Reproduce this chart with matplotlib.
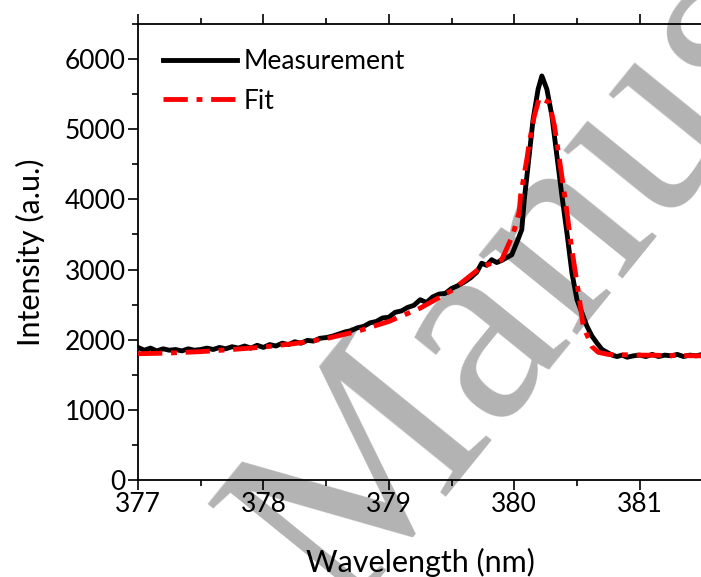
import numpy as np
import matplotlib.pyplot as plt
from matplotlib.ticker import MultipleLocator

# measured spectrum (wavelength in nm, intensity in a.u.)
wl_meas = [377.00, 377.05, 377.10, 377.15, 377.20, 377.25, 377.30, 377.35, 377.40, 377.45,
           377.50, 377.55, 377.60, 377.65, 377.70, 377.75, 377.80, 377.85, 377.90, 377.95,
           378.00, 378.05, 378.10, 378.15, 378.20, 378.25, 378.30, 378.35, 378.40, 378.45,
           378.50, 378.55, 378.60, 378.65, 378.70, 378.75, 378.80, 378.85, 378.90, 378.95,
           379.00, 379.05, 379.10, 379.15, 379.20, 379.25, 379.30, 379.35, 379.40, 379.45,
           379.50, 379.55, 379.60, 379.65, 379.70, 379.74, 379.78, 379.82, 379.86, 379.90,
           379.94, 379.98, 380.03, 380.06, 380.08, 380.11, 380.15, 380.19, 380.22, 380.26,
           380.30, 380.34, 380.38, 380.42, 380.46, 380.50, 380.54, 380.58, 380.62, 380.66,
           380.70, 380.74, 380.78, 380.82, 380.86, 380.90, 380.95, 381.00, 381.05, 381.10,
           381.15, 381.20, 381.25, 381.30, 381.35, 381.40, 381.45, 381.50]
int_meas = [1890, 1850, 1880, 1840, 1870, 1850, 1860, 1840, 1870, 1850,
            1860, 1880, 1860, 1890, 1870, 1900, 1880, 1910, 1880, 1920,
            1890, 1930, 1910, 1950, 1930, 1970, 1950, 1990, 1980, 2020,
            2030, 2050, 2080, 2110, 2130, 2170, 2190, 2240, 2260, 2310,
            2320, 2390, 2410, 2460, 2490, 2570, 2530, 2610, 2650, 2660,
            2730, 2770, 2820, 2880, 2960, 3090, 3060, 3140, 3100, 3130,
            3170, 3210, 3430, 3570, 4000, 4480, 5140, 5570, 5760, 5570,
            5190, 4620, 4050, 3520, 2950, 2570, 2380, 2190, 2050, 1950,
            1860, 1820, 1780, 1760, 1780, 1750, 1770, 1780, 1760, 1790,
            1760, 1780, 1770, 1790, 1760, 1780, 1770, 1790]

# fitted curve
wl_fit = [377.00, 377.25, 377.50, 377.75, 378.00, 378.25, 378.50, 378.75, 379.00, 379.25,
          379.50, 379.74, 379.90, 379.99, 380.04, 380.05, 380.10, 380.12, 380.16, 380.20,
          380.28, 380.30, 380.32, 380.36, 380.41, 380.45, 380.48, 380.52, 380.55, 380.62,
          380.67, 380.75, 381.00, 381.50]
int_fit = [1800, 1810, 1830, 1860, 1895, 1945, 2015, 2120, 2260, 2450,
           2700, 3040, 3140, 3500, 3830, 4050, 4570, 4810, 5190, 5450,
           5380, 5210, 5050, 4570, 3950, 3400, 3040, 2570, 2190, 1900,
           1820, 1790, 1780, 1770]

plt.rcParams['font.family'] = ['Lato', 'DejaVu Sans']

fig = plt.figure(figsize=(7.01, 5.77), dpi=100)
ax = fig.add_axes([138/701, 97/577, 1 - 138/701 + 0.002, 456/577])
ax.set_facecolor('none')

# watermark behind everything
fig.text(340/701, 1 - 618/577, 'Manuscript', rotation=51, rotation_mode='anchor',
         ha='left', va='baseline', fontsize=198, family='Liberation Serif',
         color='#b3b3b3', zorder=-1)

ax.plot(wl_meas, int_meas, color='black', lw=3.5, label='Measurement', zorder=3)
ax.plot(wl_fit, int_fit, color='red', lw=3.5, dashes=(5, 1.8, 1.2, 1.8),
        dash_capstyle='butt', label='Fit', zorder=4)

ax.set_xlim(377, 381.5)
ax.set_ylim(0, 6500)
ax.xaxis.set_major_locator(MultipleLocator(1))
ax.xaxis.set_minor_locator(MultipleLocator(0.5))
ax.yaxis.set_major_locator(MultipleLocator(1000))
ax.yaxis.set_minor_locator(MultipleLocator(500))
ax.tick_params(which='both', direction='out', top=True, right=False, width=1.2,
               labelsize=19)
ax.tick_params(which='major', length=7, pad=2)
ax.tick_params(which='minor', length=4)
for s in ['left', 'bottom', 'top']:
    ax.spines[s].set_linewidth(1.3)
ax.spines['right'].set_visible(False)

ax.set_xlabel('Wavelength (nm)', fontsize=22, labelpad=22)
ax.set_ylabel('Intensity (a.u.)', fontsize=22, labelpad=14)

ax.legend(loc='upper left', bbox_to_anchor=(0.044, 0.945), frameon=False,
          fontsize=19, handlelength=2.8, handletextpad=0.25, borderpad=0,
          borderaxespad=0, labelspacing=0.55)

fig.savefig('out.png', dpi=100)
